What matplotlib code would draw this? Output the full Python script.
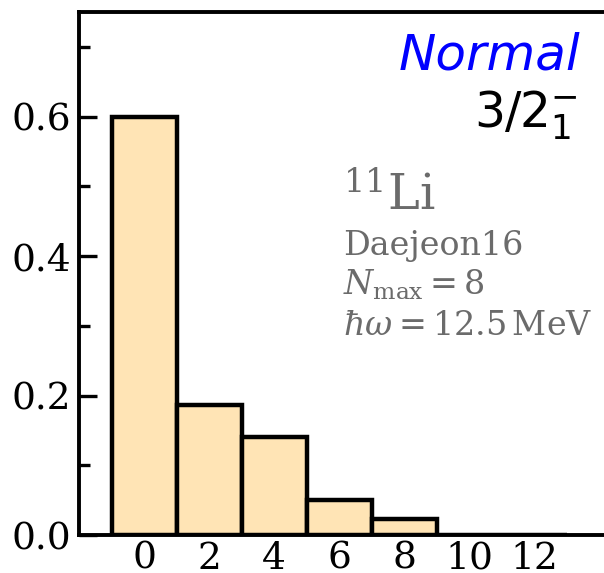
import matplotlib
matplotlib.use("Agg")
import matplotlib.pyplot as plt
from matplotlib.ticker import MultipleLocator

plt.rcParams['font.family'] = 'DejaVu Serif'
plt.rcParams['mathtext.fontset'] = 'dejavuserif'

quanta = [0, 2, 4, 6, 8, 10, 12]
probs = [0.60, 0.187, 0.141, 0.050, 0.023, 0.0, 0.0]
xtick_labels = ['0', '2', '4', '6', '8', '10', '12']
ytick_vals = [0.0, 0.2, 0.4, 0.6]

W, H = 604, 573
fig = plt.figure(figsize=(W/100, H/100), dpi=100)
left, bottom, top = 79, 535, 12
ax = fig.add_axes([left/W, 1-bottom/H, 552.5/W, (bottom-top)/H])

ax.bar(quanta, probs, width=2, color='#FFE4B5', edgecolor='black', linewidth=3.2, zorder=2)
ax.set_xlim(-2, 15)
ax.set_ylim(0, 0.75)
ax.set_xticks(quanta)
ax.set_xticklabels(xtick_labels)
ax.set_yticks(ytick_vals)
ax.set_yticklabels([f'{v:.1f}' for v in ytick_vals])
ax.yaxis.set_minor_locator(MultipleLocator(0.1))
ax.tick_params(axis='y', which='major', direction='in', length=13, width=2.4, labelsize=27, pad=6)
ax.tick_params(axis='y', which='minor', direction='in', length=8, width=2.4)
ax.tick_params(axis='x', which='both', length=0, labelsize=27, pad=4)
for s in ax.spines.values():
    s.set_linewidth(2.8)
ax.spines['right'].set_visible(False)

fig.text(580/W, 1-70/H, 'Normal', color='blue', fontsize=36, style='italic',
         family='DejaVu Sans', ha='right', va='baseline')
fig.text(578/W, 1-127/H, r'$\mathsf{3/2}_{\mathsf{1}}^{-}$', color='black', fontsize=35,
         ha='right', va='baseline')
gray = '#6b6b6b'
fig.text(343/W, 1-210/H, r'$^{11}$Li', color=gray, fontsize=34.5, ha='left', va='baseline')
fig.text(343/W, 1-255/H, 'Daejeon16', color=gray, fontsize=24, ha='left', va='baseline')
fig.text(343/W, 1-295/H, r'$N_{\rm max} = 8$', color=gray, fontsize=24, ha='left', va='baseline')
fig.text(343/W, 1-335/H, r'$\hbar\omega = 12.5\,{\rm MeV}$', color=gray, fontsize=24, ha='left', va='baseline')

fig.savefig('out.png', dpi=100)
